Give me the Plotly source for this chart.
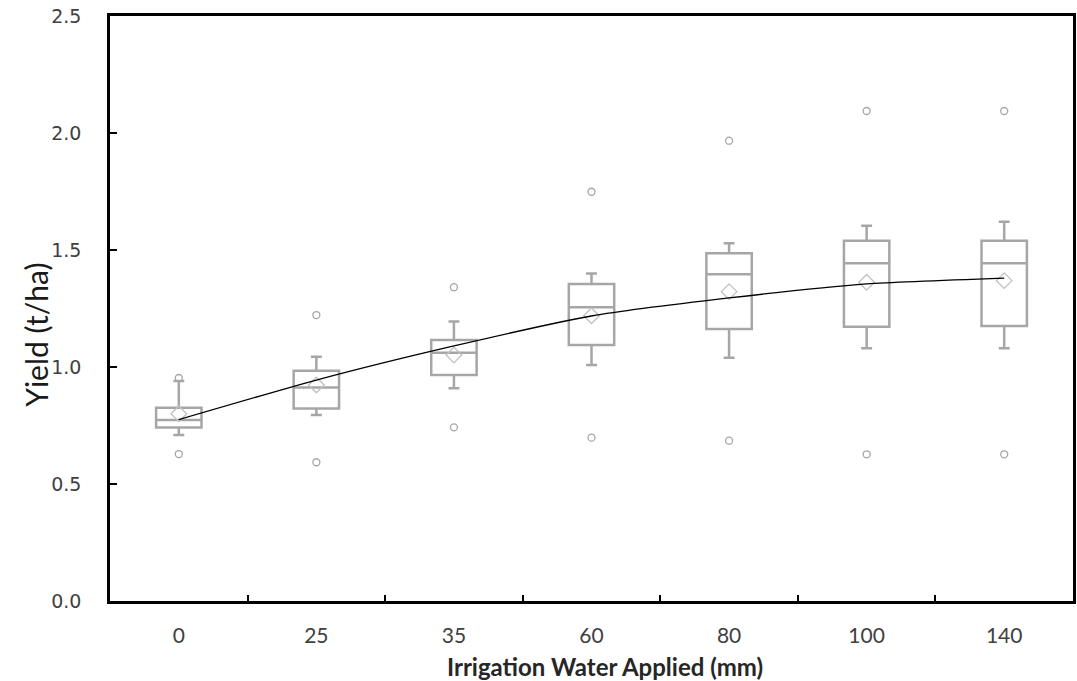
import plotly.graph_objects as go

categories = ["0", "25", "35", "60", "80", "100", "140"]
q1 = [0.741, 0.823, 0.966, 1.094, 1.162, 1.172, 1.175]
median = [0.774, 0.912, 1.061, 1.255, 1.396, 1.443, 1.443]
q3 = [0.826, 0.984, 1.115, 1.355, 1.486, 1.540, 1.540]
lower_whisker = [0.709, 0.795, 0.909, 1.009, 1.040, 1.080, 1.080]
upper_whisker = [0.940, 1.044, 1.194, 1.400, 1.529, 1.604, 1.621]
means = [0.800, 0.923, 1.051, 1.219, 1.322, 1.362, 1.369]
outlier_high = [0.953, 1.222, 1.341, 1.749, 1.967, 2.094, 2.094]
outlier_low = [0.628, 0.593, 0.742, 0.698, 0.685, 0.627, 0.627]
trend = [0.775, 0.944, 1.090, 1.218, 1.295, 1.355, 1.380]

box_color = "#A6A6A6"

fig = go.Figure()

fig.add_trace(go.Box(
    x=categories,
    q1=q1, median=median, q3=q3,
    lowerfence=lower_whisker, upperfence=upper_whisker,
    fillcolor="rgba(0,0,0,0)",
    line=dict(color=box_color, width=2.5),
    whiskerwidth=0.24,
    width=0.33,
    showlegend=False,
    hoverinfo="skip",
))

fig.add_trace(go.Scatter(
    x=categories + categories,
    y=outlier_high + outlier_low,
    mode="markers",
    marker=dict(symbol="circle-open", size=7, color=box_color, line=dict(width=1.3)),
    showlegend=False,
))

fig.add_trace(go.Scatter(
    x=categories, y=means,
    mode="markers",
    marker=dict(symbol="diamond-open", size=12, color="#C0C0C0", line=dict(width=1.3)),
    showlegend=False,
))

fig.add_trace(go.Scatter(
    x=categories, y=trend,
    mode="lines",
    line=dict(color="black", width=1.3, shape="spline", smoothing=0.6),
    showlegend=False,
))

fig.update_layout(
    width=1077, height=681,
    margin=dict(l=110, r=1, t=16, b=80),
    plot_bgcolor="white", paper_bgcolor="white",
    xaxis=dict(
        type="category",
        range=[-0.5, 6.5],
        showline=True, linecolor="black", linewidth=2.5, mirror=True,
        ticks="inside", tickson="boundaries", ticklen=6, tickwidth=2, tickcolor="black",
        tickfont=dict(family="Lato", size=21, color="#404040"),
        ticklabelstandoff=14,
        showgrid=False, zeroline=False,
    ),
    yaxis=dict(
        range=[0, 2.5],
        tickvals=[0, 0.5, 1.0, 1.5, 2.0, 2.5],
        tickformat=".1f",
        showline=True, linecolor="black", linewidth=2.5, mirror=True,
        ticks="inside", ticklen=7, tickwidth=2, tickcolor="black",
        tickfont=dict(family="DejaVu Sans", size=19, color="#404040"),
        ticklabelstandoff=22,
        showgrid=False, zeroline=False,
    ),
    annotations=[
        dict(text="Yield (t/ha)", textangle=-90, xref="paper", yref="paper",
             x=0, y=0.455, xanchor="center", yanchor="middle", xshift=-74, showarrow=False,
             font=dict(family="Lato", size=30, color="#1a1a1a")),
        dict(text="<b>Irrigation Water Applied (mm)</b>", xref="paper", yref="paper",
             x=0.5, y=0, xanchor="center", yanchor="middle", yshift=-65, xshift=13, showarrow=False,
             font=dict(family="Lato", size=24, color="#262626")),
    ],
)

fig.write_html("out.html")
